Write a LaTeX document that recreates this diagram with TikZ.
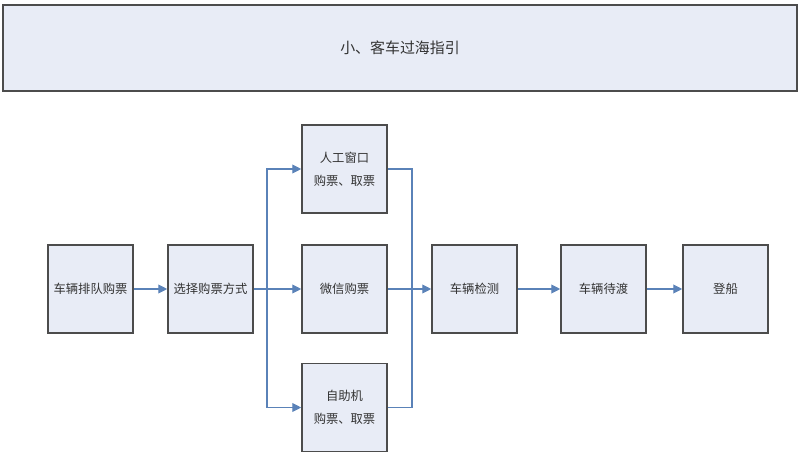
\documentclass[tikz,border=0pt]{standalone}
\usepackage{fontspec}
\setmainfont{Noto Sans CJK SC}
\usepackage{xcolor}
\usepackage{tikz}
\usetikzlibrary{arrows.meta}

\definecolor{boxfill}{HTML}{E8ECF6}
\definecolor{flowblue}{HTML}{5A82B8}

\tikzset{
  stepbox/.style={draw=black!70, line width=0.9pt, fill=boxfill,
    minimum width=1.7cm, minimum height=1.76cm, inner sep=1pt,
    align=center, font=\fontsize{7}{13}\selectfont, text=black!80},
  flow/.style={draw=flowblue, line width=0.6pt},
  flowarr/.style={flow, -{Triangle[length=5pt,width=5pt]}}
}

\begin{document}
\begin{tikzpicture}
  \useasboundingbox (0,0) rectangle (16,-9.1);

  % Title bar.
  \node[draw=black!70, line width=1pt, fill=boxfill, minimum width=15.88cm,
    minimum height=1.72cm, font=\fontsize{8.5}{10}\selectfont, text=black!80]
    (title) at (8,-0.96) {小、客车过海指引};

  % Main row.
  \node[stepbox] (queue) at (1.81,-5.78) {车辆排队购票};
  \node[stepbox] (choose) at (4.21,-5.78) {选择购票方式};
  \node[stepbox] (check) at (9.49,-5.78) {车辆检测};
  \node[stepbox] (wait) at (12.07,-5.78) {车辆待渡};
  \node[stepbox] (board) at (14.51,-5.78) {登船};

  % Ways to buy a ticket.
  \node[stepbox] (counter) at (6.89,-3.38) {人工窗口\\购票、取票};
  \node[stepbox] (wechat) at (6.89,-5.78) {微信购票};
  \node[stepbox] (kiosk) at (6.89,-8.15) {自助机\\购票、取票};

  \coordinate (split) at (5.34,-5.78);
  \coordinate (join) at (8.24,-5.78);

  % Connectors.
  \draw[flowarr] (queue) -- (choose);
  \draw[flow] (choose) -- (split);
  \draw[flowarr] (split) |- (counter.west);
  \draw[flowarr] (split) -- (wechat);
  \draw[flowarr] (split) |- (kiosk.west);
  \draw[flow] (counter.east) -| (join);
  \draw[flow] (kiosk.east) -| (join);
  \draw[flowarr] (wechat) -- (check);
  \draw[flowarr] (check) -- (wait);
  \draw[flowarr] (wait) -- (board);
\end{tikzpicture}
\end{document}
